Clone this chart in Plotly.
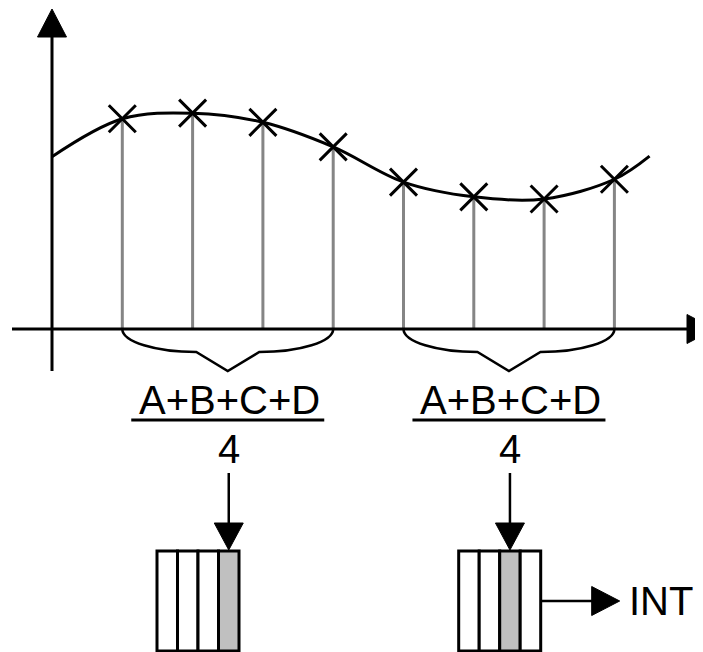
import plotly.graph_objects as go

# sampled signal: sample index -> value (one unit = one sample period)
SAMPLE_T = [1, 2, 3, 4, 5, 6, 7, 8]
SAMPLE_V = [2.99, 3.07, 2.94, 2.59, 2.09, 1.88, 1.85, 2.13]
CURVE_T = [0.0] + SAMPLE_T + [8.5]
CURVE_V = [2.45] + SAMPLE_V + [2.46]

# averaging groups (first/last sample of each) and the buffer slot being written
GROUPS = [(1, 4), (5, 8)]
WRITE_SLOT = [3, 2]
N_SLOTS = 4
FRACTION_NUM = "A+B+C+D"
FRACTION_DEN = "4"
OUT_LABEL = "INT"

S = 70.3  # pixels per unit on both axes
W, H = 703, 652
PAGE = 8  # default body margin of the html page
OX, OY = 52, 329  # pixel position of the origin in the window
FONT = dict(family="Liberation Sans, Arial, sans-serif", size=40, color="black")


def u(p):
    return p / S


def head(tx, ty, dx, dy, length=u(28), half=u(14.5)):
    # filled triangular arrow head, tip at (tx, ty), pointing along (dx, dy)
    bx, by = tx - dx * length, ty - dy * length
    px_, py_ = -dy * half, dx * half
    return dict(type="path", path=f"M {tx},{ty} L {bx + px_},{by + py_} L {bx - px_},{by - py_} Z",
                fillcolor="black", line=dict(color="black", width=1))


def line(x0, y0, x1, y1, width=3, color="black"):
    return dict(type="line", x0=x0, y0=y0, x1=x1, y1=y1, line=dict(color=color, width=width))


fig = go.Figure()

# stems from axis up to each sample
stem_x, stem_y = [], []
for t, v in zip(SAMPLE_T, SAMPLE_V):
    stem_x += [t, t, None]
    stem_y += [0, v, None]
fig.add_trace(go.Scatter(x=stem_x, y=stem_y, mode="lines",
                         line=dict(color="#858585", width=3), hoverinfo="skip"))

fig.add_trace(go.Scatter(x=CURVE_T, y=CURVE_V, mode="lines",
                         line=dict(color="black", width=3, shape="spline", smoothing=1.0),
                         hoverinfo="skip"))
fig.add_trace(go.Scatter(x=SAMPLE_T, y=SAMPLE_V, mode="markers",
                         marker=dict(symbol="x-thin", size=27, line=dict(color="black", width=3)),
                         hoverinfo="skip"))

shapes = []
# axes
shapes.append(line(0, u(-42), 0, u(292)))
shapes.append(head(0, u(320), 0, 1))
shapes.append(line(u(-40), 0, u(636), 0))
shapes.append(head(u(663), 0, 1, 0))

annotations = []
cell = u(20.5)
for (g0, g1), slot in zip(GROUPS, WRITE_SLOT):
    xm = (g0 + g1) / 2
    d, tip, v = u(23), u(42), u(31.5)
    k = 0.5523
    rxl = (xm - v) - g0
    path = (f"M {g0},0 C {g0},{-k * d} {xm - v - k * rxl},{-d} {xm - v},{-d} "
            f"L {xm},{-tip} L {xm + v},{-d} "
            f"C {xm + v + k * rxl},{-d} {g1},{-k * d} {g1},0")
    shapes.append(dict(type="path", path=path, line=dict(color="black", width=2.5)))

    annotations.append(dict(x=xm + u(2), y=u(-70.5), text=FRACTION_NUM, showarrow=False,
                            xanchor="center", yanchor="middle", font=FONT))
    shapes.append(line(xm - u(96.5), u(-91), xm + u(96.5), u(-91)))
    annotations.append(dict(x=xm + u(1), y=u(-119.5), text=FRACTION_DEN, showarrow=False,
                            xanchor="center", yanchor="middle", font=FONT))

    # arrow down into the buffer
    ax = xm + u(1)
    shapes.append(line(ax, u(-144), ax, u(-196), width=2.5))
    shapes.append(head(ax, u(-221), 0, -1, length=u(27)))

    left = ax - (slot + 0.5) * cell
    top, bot = u(-222), u(-322)
    for i in range(N_SLOTS):
        shapes.append(dict(type="rect", x0=left + i * cell, x1=left + (i + 1) * cell, y0=bot, y1=top,
                           fillcolor="#c0c0c0" if i == slot else "white",
                           line=dict(color="black", width=3)))

# output arrow from the second buffer
right = ax + (N_SLOTS - slot - 0.5) * cell
yo = u(-272)
shapes.append(line(right, yo, right + u(60), yo, width=2.5))
shapes.append(head(right + u(79), yo, 1, 0))
annotations.append(dict(x=right + u(86), y=yo, text=OUT_LABEL, showarrow=False,
                        xanchor="left", yanchor="middle", font=FONT))

# the page puts the figure 8px in from the window corner, so the figure covers
# window pixels PAGE..W and PAGE..H
fig.update_layout(
    width=W - PAGE, height=H - PAGE, autosize=False,
    margin=dict(l=0, r=0, t=0, b=0),
    paper_bgcolor="white", plot_bgcolor="white",
    showlegend=False,
    shapes=shapes, annotations=annotations,
    xaxis=dict(range=[u(PAGE - OX), u(W - OX)], visible=False, fixedrange=True),
    yaxis=dict(range=[u(OY - H), u(OY - PAGE)], visible=False, fixedrange=True),
)

fig.write_html("out.html")
